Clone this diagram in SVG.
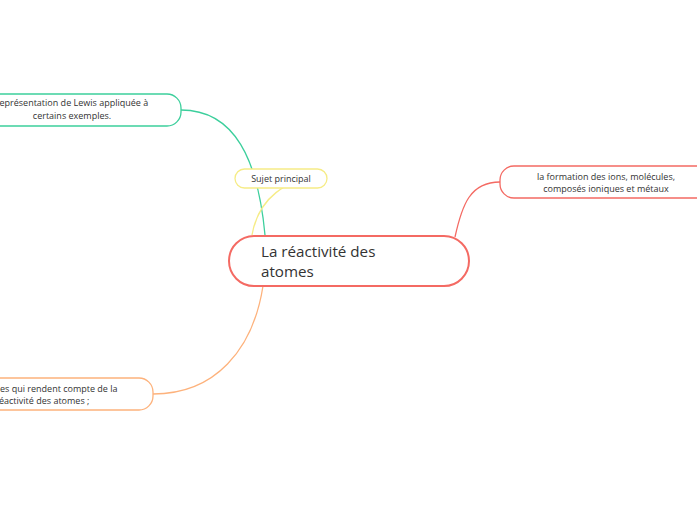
<svg xmlns="http://www.w3.org/2000/svg" width="697" height="520" viewBox="0 0 697 520">
<style>
.t{font-family:"Open Sans",Lato,"DejaVu Sans",sans-serif;fill:#333;font-size:9px}
.c{fill:none;stroke-width:1.3}
.n{fill:#fff;stroke-width:1.3}
</style>
<rect width="697" height="520" fill="#fff"/>
<g id="connectors">
<path class="c" stroke="#3ccf9c" d="M181,110 C235,110 258,160 265,235"/>
<path class="c" stroke="#f6ec86" d="M327,178 C285,176 258,200 252,235"/>
<path class="c" stroke="#f46a63" d="M455,237 C462,205 470,182 500,182"/>
<path class="c" stroke="#fdb27c" d="M263,286 C253,350 215,394 153,394"/>
</g>
<g id="central">
<rect x="229" y="236" width="240" height="50" rx="25" fill="#fff" stroke="#f46a63" stroke-width="2"/>
<text class="t" x="261" y="257" style="font-size:15.2px">La réactivité des</text>
<text class="t" x="261" y="277" style="font-size:15.2px">atomes</text>
</g>
<g id="lewis">
<rect class="n" x="-30" y="94" width="211" height="32" rx="14" stroke="#3ccf9c"/>
<text class="t" x="72" y="106" text-anchor="middle">représentation de Lewis appliquée à</text>
<text class="t" x="72" y="119" text-anchor="middle">certains exemples.</text>
</g>
<g id="sujet">
<rect class="n" x="235" y="169" width="92" height="19" rx="9.5" stroke="#f6ec86" fill="none"/>
<text class="t" x="281" y="182" text-anchor="middle">Sujet principal</text>
</g>
<g id="formation">
<rect class="n" x="500" y="166" width="220" height="32" rx="14" stroke="#f46a63"/>
<text class="t" x="606" y="180" text-anchor="middle">la formation des ions, molécules,</text>
<text class="t" x="606" y="192" text-anchor="middle">composés ioniques et métaux</text>
</g>
<g id="proprietes">
<rect class="n" x="-40" y="378" width="193" height="32" rx="14" stroke="#fdb27c"/>
<text class="t" x="0" y="392">es qui rendent compte de la</text>
<text class="t" x="-1" y="404">éactivité des atomes ;</text>
</g>
</svg>
